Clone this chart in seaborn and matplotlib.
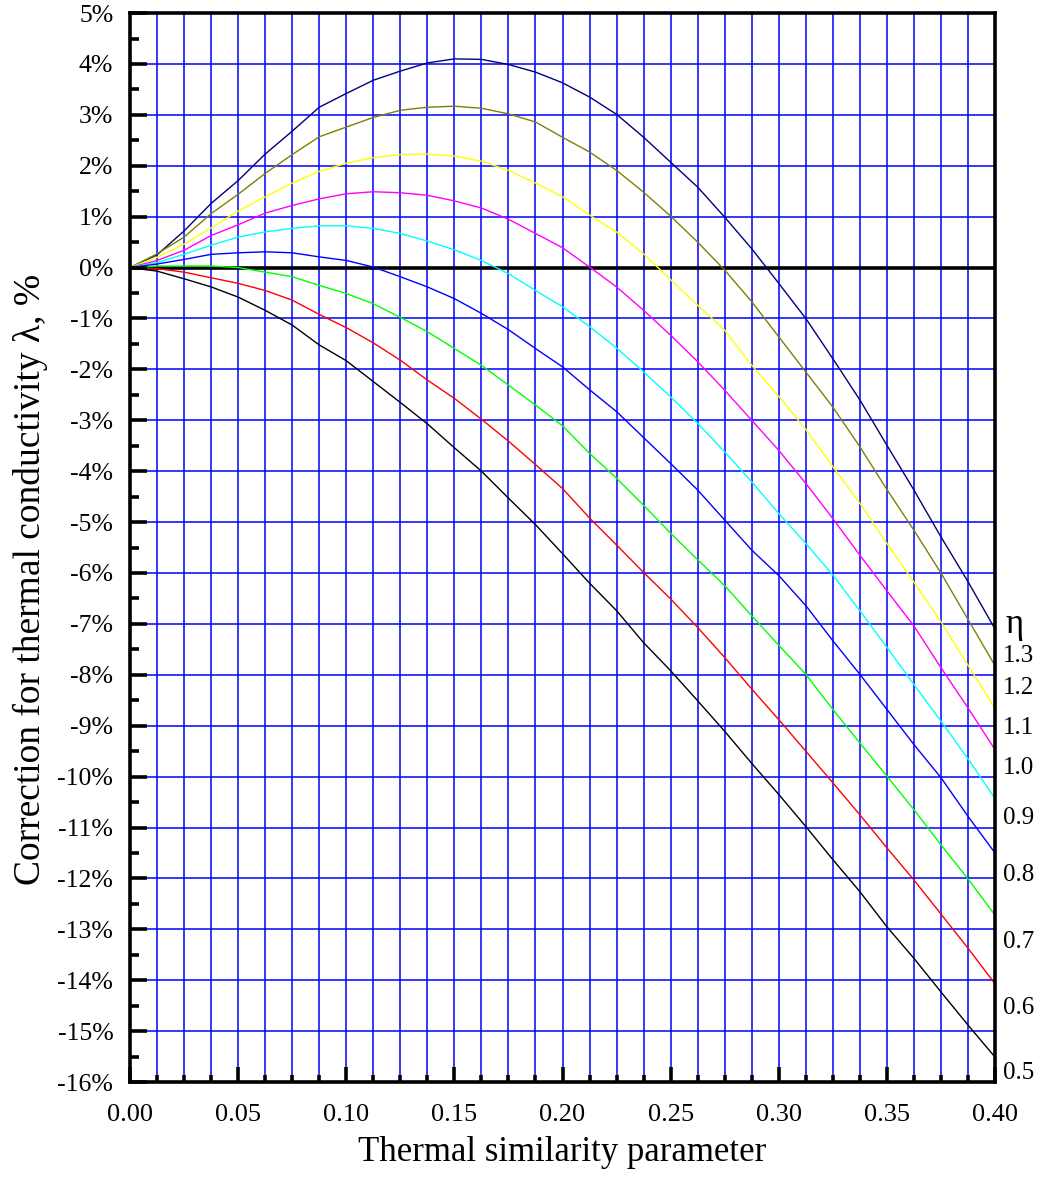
"""
Correction for thermal conductivity vs thermal similarity parameter,
one curve per eta value.
"""

import matplotlib

matplotlib.use("Agg")
import matplotlib.pyplot as plt
import matplotlib.transforms as mtransforms
import numpy as np
import pandas as pd
import seaborn as sns
from matplotlib.ticker import FuncFormatter, MultipleLocator

# ---------------------------------------------------------------------------
# Data
# ---------------------------------------------------------------------------
X = [0.0, 0.0125, 0.025, 0.0375, 0.05, 0.0625, 0.075, 0.0875, 0.10, 0.1125,
     0.125, 0.1375, 0.15, 0.1625, 0.175, 0.1875, 0.20, 0.2125, 0.225, 0.2375,
     0.25, 0.2625, 0.275, 0.2875, 0.30, 0.3125, 0.325, 0.3375, 0.35, 0.3625,
     0.375, 0.3875, 0.40]

ETA_13 = [0, 0.25, 0.72, 1.26, 1.71, 2.23, 2.68, 3.15, 3.42, 3.68, 3.86, 4.02,
          4.10, 4.09, 3.99, 3.84, 3.63, 3.35, 3.01, 2.56, 2.07, 1.58, 0.99,
          0.37, -0.31, -1.00, -1.79, -2.60, -3.49, -4.37, -5.29, -6.17, -7.10]
ETA_12 = [0, 0.27, 0.60, 1.06, 1.44, 1.85, 2.22, 2.57, 2.76, 2.95, 3.09, 3.15,
          3.17, 3.13, 3.02, 2.86, 2.56, 2.27, 1.91, 1.48, 1.01, 0.50, -0.05,
          -0.67, -1.36, -2.05, -2.74, -3.52, -4.36, -5.16, -6.00, -6.91, -7.82]
ETA_11 = [0, 0.20, 0.46, 0.78, 1.11, 1.39, 1.66, 1.89, 2.05, 2.16, 2.22, 2.23,
          2.19, 2.09, 1.91, 1.66, 1.39, 1.03, 0.70, 0.27, -0.24, -0.74, -1.23,
          -1.92, -2.53, -3.18, -3.91, -4.63, -5.42, -6.18, -6.96, -7.81, -8.66]
ETA_10 = [0, 0.14, 0.34, 0.63, 0.84, 1.07, 1.22, 1.35, 1.45, 1.49, 1.47, 1.42,
          1.31, 1.17, 0.95, 0.67, 0.39, 0.01, -0.38, -0.84, -1.33, -1.85,
          -2.41, -3.00, -3.59, -4.24, -4.93, -5.65, -6.35, -7.04, -7.86, -8.65,
          -9.47]
ETA_09 = [0, 0.10, 0.26, 0.44, 0.60, 0.70, 0.77, 0.82, 0.82, 0.77, 0.67, 0.52,
          0.35, 0.14, -0.12, -0.45, -0.77, -1.16, -1.58, -2.05, -2.54, -3.06,
          -3.62, -4.21, -4.83, -5.42, -6.04, -6.74, -7.46, -8.19, -8.91, -9.65,
          -10.43]
ETA_08 = [0, 0.07, 0.16, 0.26, 0.29, 0.31, 0.29, 0.21, 0.14, 0.01, -0.18,
          -0.38, -0.61, -0.90, -1.22, -1.59, -1.95, -2.40, -2.83, -3.34, -3.85,
          -4.37, -4.96, -5.55, -6.05, -6.64, -7.33, -7.99, -8.68, -9.37, -10.02,
          -10.78, -11.50]
ETA_07 = [0, 0.03, 0.03, 0.03, 0.0, -0.09, -0.18, -0.35, -0.51, -0.71, -0.98,
          -1.26, -1.59, -1.92, -2.31, -2.70, -3.11, -3.65, -4.14, -4.67, -5.22,
          -5.74, -6.25, -6.84, -7.42, -7.99, -8.68, -9.34, -9.99, -10.65,
          -11.34, -12.01, -12.72]
ETA_06 = [0, -0.02, -0.09, -0.20, -0.31, -0.45, -0.64, -0.92, -1.18, -1.48,
          -1.82, -2.21, -2.57, -2.98, -3.41, -3.87, -4.34, -4.92, -5.45, -5.99,
          -6.51, -7.07, -7.66, -8.28, -8.88, -9.50, -10.12, -10.75, -11.40,
          -12.03, -12.70, -13.37, -14.07]
ETA_05 = [0, -0.07, -0.22, -0.38, -0.58, -0.84, -1.13, -1.52, -1.83, -2.24,
          -2.65, -3.07, -3.54, -4.00, -4.53, -5.05, -5.62, -6.20, -6.74, -7.37,
          -7.92, -8.51, -9.11, -9.74, -10.35, -10.98, -11.63, -12.26, -12.95,
          -13.57, -14.23, -14.88, -15.51]

ETA_LABELS = ["1.3", "1.2", "1.1", "1.0", "0.9", "0.8", "0.7", "0.6", "0.5"]
SERIES = [ETA_13, ETA_12, ETA_11, ETA_10, ETA_09, ETA_08, ETA_07, ETA_06, ETA_05]
COLORS = ["#000080", "#808000", "#ffff00", "#ff00ff", "#00ffff",
          "#0000ff", "#00ff00", "#ff0000", "#000000"]

# right-hand label placement (data y, layout only)
LABEL_Y = [-7.64, -8.26, -9.04, -9.83, -10.81, -11.93, -13.24, -14.54, -15.82]
ETA_SYMBOL_Y = -7.02

# ---------------------------------------------------------------------------
# Plot
# ---------------------------------------------------------------------------
sns.set_style("white")
plt.rcParams["font.family"] = ["Liberation Serif", "DejaVu Serif"]
plt.rcParams["text.color"] = "black"
plt.rcParams["axes.labelcolor"] = "black"

df = pd.concat(
    [pd.DataFrame({"x": X, "y": s, "eta": lab}) for lab, s in zip(ETA_LABELS, SERIES)],
    ignore_index=True,
)

fig = plt.figure(figsize=(10.42, 11.98), dpi=100)
ax = fig.add_axes([0.1248, 0.0968, 0.8301, 0.8923])
ax.set_axisbelow(False)

# grid first so curves sit on top
ax.xaxis.set_minor_locator(MultipleLocator(0.0125))
ax.xaxis.set_major_locator(MultipleLocator(0.05))
ax.yaxis.set_major_locator(MultipleLocator(1))
ax.yaxis.set_minor_locator(MultipleLocator(0.5))
ax.grid(False)
for gx in np.arange(0.0125, 0.40, 0.0125):
    ax.axvline(gx, color="#0000ff", lw=1.1, zorder=0.5)
for gy in range(-15, 5):
    ax.axhline(gy, color="#0000ff", lw=1.1, zorder=0.5)
ax.axhline(0, color="black", lw=2.6, zorder=2)

sns.lineplot(
    data=df, x="x", y="y", hue="eta", palette=dict(zip(ETA_LABELS, COLORS)),
    hue_order=ETA_LABELS, lw=1.0, legend=False, ax=ax, zorder=2.2,
)

ax.set_xlim(0, 0.40)
ax.set_ylim(-16, 5)

ax.xaxis.set_major_formatter(FuncFormatter(lambda v, _: f"{v:.2f}"))
ax.yaxis.set_major_formatter(FuncFormatter(lambda v, _: f"{v:.0f}%"))

ax.tick_params(axis="both", which="both", direction="in", color="black",
               labelcolor="black", width=2.6, bottom=True, left=True,
               top=False, right=False)
ax.tick_params(axis="x", which="major", length=11, pad=16, labelsize=19)
ax.tick_params(axis="x", which="minor", length=5)
ax.tick_params(axis="y", which="major", length=12, pad=12, labelsize=18.5)
ax.tick_params(axis="y", which="minor", length=6.5)

for sp in ax.spines.values():
    sp.set_visible(True)
    sp.set_color("black")
    sp.set_linewidth(2.6)
    sp.set_zorder(5)

ax.set_xlabel("Thermal similarity parameter", fontsize=25, labelpad=7)
ax.set_ylabel("Correction for thermal conductivity λ, %", fontsize=27)
ax.yaxis.set_label_coords(-0.095, 0.47)

# eta labels on the right
trans = mtransforms.blended_transform_factory(ax.transAxes, ax.transData)
ax.text(1.012, ETA_SYMBOL_Y, "η", transform=trans, fontsize=25,
        ha="left", va="center", clip_on=False)
for lab, ly in zip(ETA_LABELS, LABEL_Y):
    ax.text(1.009, ly, lab, transform=trans, fontsize=18,
            ha="left", va="center", clip_on=False)

fig.savefig("out.png", dpi=100)
plt.close(fig)
